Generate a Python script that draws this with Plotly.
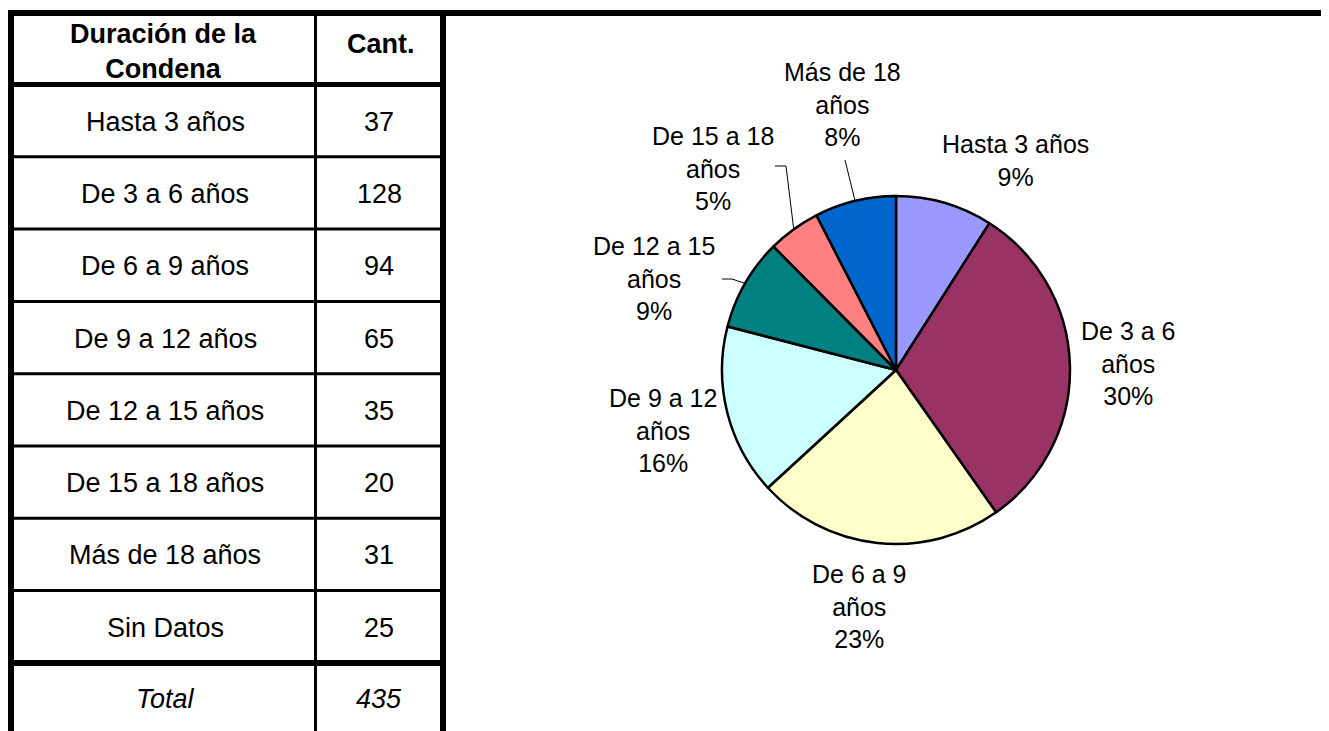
import math
import plotly.graph_objects as go

# ---------------- data ----------------
categories = ["Hasta 3 años", "De 3 a 6 años", "De 6 a 9 años", "De 9 a 12 años",
              "De 12 a 15 años", "De 15 a 18 años", "Más de 18 años", "Sin Datos"]
counts = [37, 128, 94, 65, 35, 20, 31, 25]
total_label = "Total"
total_value = 435
header_col1 = "Duración de la<br>Condena"
header_col2 = "Cant."

pie_categories = categories[:7]
pie_values = counts[:7]
pie_label_names = ["Hasta 3 años", "De 3 a 6<br>años", "De 6 a 9<br>años", "De 9 a 12<br>años",
                   "De 12 a 15<br>años", "De 15 a 18<br>años", "Más de 18<br>años"]
pie_pct_text = ["9%", "30%", "23%", "16%", "9%", "5%", "8%"]

# ---------------- styles / layout ----------------
W, H = 1329, 731          # browser window
OFF = 8                   # default page body margin
FW, FH = W - OFF, H - OFF # figure size so it fits in the window
FONT = "Liberation Sans, Arial, sans-serif"
slice_colors = ["#9999FF", "#993366", "#FFFFCC", "#CCFFFF", "#008080", "#FF8080", "#0066CC"]

# table geometry (window pixels)
x_left, x_div, x_right = 11, 315.5, 443
y_top, y_head = 13, 84.5
row_h = 72.3
table_font = 27

# pie geometry (window pixels)
pcx, pcy, pr = 896, 370, 174
pie_font = 25
label_pos = [(1015, 160), (1128, 363), (859, 606), (663, 430), (654, 278), (713, 168), (842, 104)]
leader_starts = {4: [(722, 279), (732, 279)], 5: [(775, 166), (786, 166)], 6: [(845, 160)]}

fig = go.Figure()

fig.add_trace(go.Pie(
    labels=pie_categories, values=pie_values, sort=False, direction="clockwise", rotation=0,
    marker=dict(colors=slice_colors, line=dict(color="black", width=2.5)),
    textinfo="none", hoverinfo="label+value+percent", showlegend=False,
    domain=dict(x=[(pcx - pr - OFF) / FW, (pcx + pr - OFF) / FW],
                y=[1 - (pcy + pr - OFF) / FH, 1 - (pcy - pr - OFF) / FH]),
))

# invisible pixel-space axes (window coordinates)
fig.add_trace(go.Scatter(x=[OFF, W], y=[OFF, H], mode="markers", marker=dict(opacity=0),
                         hoverinfo="skip", showlegend=False))

shapes = []
def line(x0, y0, x1, y1, w):
    shapes.append(dict(type="line", xref="x", yref="y", x0=x0, y0=y0, x1=x1, y1=y1,
                       line=dict(color="black", width=w)))

n_rows = len(categories)
row_lines = [y_head + row_h * (i + 1) for i in range(n_rows)]
y_total_line = row_lines[-1]

line(8, y_top, W + 2, y_top, 6)            # top border
line(x_left, 10, x_left, H, 6)             # left border
line(x_right, 10, x_right, H, 6)           # right border
line(x_div, y_top, x_div, H, 3)            # column divider
line(x_left, y_head, x_right, y_head, 5)   # header bottom
for y in row_lines[:-1]:
    line(x_left, y, x_right, y, 3)
line(x_left, y_total_line, x_right, y_total_line, 6)

annotations = []
def text(x, y, s, size, **kw):
    annotations.append(dict(xref="x", yref="y", x=x, y=y, text=s, showarrow=False,
                            xanchor="center", yanchor="middle",
                            font=dict(family=FONT, size=size, color="black"), **kw))

c1 = (x_left + x_div) / 2
c2 = (x_div + x_right) / 2
text(c1, 51, "<b>" + header_col1 + "</b>", table_font)
text(c2 + 2, 44, "<b>" + header_col2 + "</b>", table_font)
prev = y_head
for cat, val, yl in zip(categories, counts, row_lines):
    yc = (prev + yl) / 2 + 1
    text(c1 + 2, yc, cat, table_font)
    text(c2, yc, str(val), table_font)
    prev = yl
yc_total = (y_total_line + (y_total_line + row_h)) / 2
text(c1 + 2, yc_total, "<i>" + total_label + "</i>", table_font)
text(c2, yc_total, "<i>" + str(total_value) + "</i>", table_font)

# pie labels
for i, (name, pct) in enumerate(zip(pie_label_names, pie_pct_text)):
    lx, ly = label_pos[i]
    text(lx, ly, name + "<br>" + pct, pie_font)

# leader lines to slice mid-angles
tot = sum(pie_values)
cum = 0
mids = []
for v in pie_values:
    mids.append((cum + v / 2) / tot * 2 * math.pi)
    cum += v
for i, pts in leader_starts.items():
    a = mids[i]
    ex, ey = pcx + pr * math.sin(a), pcy - pr * math.cos(a)
    allpts = pts + [(ex, ey)]
    path = "M " + " L ".join(f"{px},{py}" for px, py in allpts)
    shapes.append(dict(type="path", xref="x", yref="y", path=path,
                       line=dict(color="black", width=1)))

fig.update_layout(
    width=FW, height=FH, margin=dict(l=0, r=0, t=0, b=0),
    paper_bgcolor="white", plot_bgcolor="white",
    xaxis=dict(range=[OFF, W], visible=False, fixedrange=True),
    yaxis=dict(range=[H, OFF], visible=False, fixedrange=True),
    shapes=shapes, annotations=annotations,
)

fig.write_html("out.html")
